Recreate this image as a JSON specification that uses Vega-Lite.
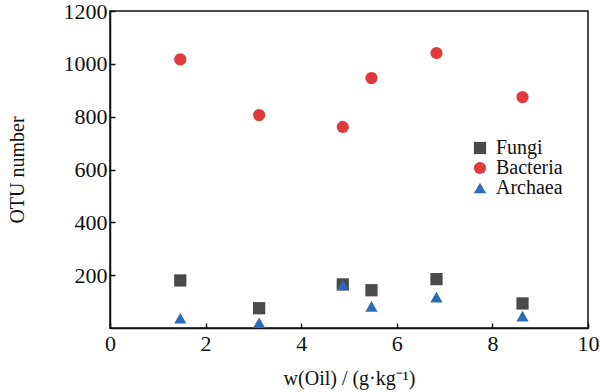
{
  "$schema": "https://vega.github.io/schema/vega-lite/v6.json",
  "width": 478,
  "height": 317,
  "autosize": {"type": "none"},
  "padding": {"left": 110, "top": 11, "right": 12, "bottom": 64},
  "background": "white",
  "config": {
    "font": "Liberation Serif",
    "view": {"stroke": "#111", "strokeWidth": 1.5},
    "axis": {"grid": false, "domainColor": "#111", "domainWidth": 1.5, "tickColor": "#111", "tickWidth": 1.5}
  },
  "data": {"values": [
    {"x": 1.47, "y": 180, "group": "Fungi"},
    {"x": 3.12, "y": 75, "group": "Fungi"},
    {"x": 4.87, "y": 165, "group": "Fungi"},
    {"x": 5.47, "y": 143, "group": "Fungi"},
    {"x": 6.83, "y": 185, "group": "Fungi"},
    {"x": 8.63, "y": 93, "group": "Fungi"},
    {"x": 1.47, "y": 1017, "group": "Bacteria"},
    {"x": 3.12, "y": 806, "group": "Bacteria"},
    {"x": 4.87, "y": 761, "group": "Bacteria"},
    {"x": 5.47, "y": 946, "group": "Bacteria"},
    {"x": 6.83, "y": 1041, "group": "Bacteria"},
    {"x": 8.63, "y": 874, "group": "Bacteria"},
    {"x": 1.47, "y": 37, "group": "Archaea"},
    {"x": 3.12, "y": 20, "group": "Archaea"},
    {"x": 4.87, "y": 163, "group": "Archaea"},
    {"x": 5.47, "y": 82, "group": "Archaea"},
    {"x": 6.83, "y": 117, "group": "Archaea"},
    {"x": 8.63, "y": 45, "group": "Archaea"}
  ]},
  "mark": {"type": "point", "filled": true, "opacity": 1},
  "encoding": {
    "x": {"field": "x", "type": "quantitative", "scale": {"domain": [0, 10], "nice": false},
      "axis": {"values": [0, 2, 4, 6, 8, 10], "tickSize": -5, "labelPadding": 10, "title": "w(Oil) / (g·kg⁻¹)", "titlePadding": 14, "labelFlush": false,
        "labelFont": "Liberation Serif", "labelFontSize": 22, "labelColor": "#111", "titleFont": "Liberation Serif", "titleFontSize": 20, "titleFontWeight": "normal", "titleColor": "#111"}},
    "y": {"field": "y", "type": "quantitative", "scale": {"domain": [0, 1200], "nice": false},
      "axis": {"values": [200, 400, 600, 800, 1000, 1200], "format": "d", "tickSize": -5, "labelPadding": 8, "title": "OTU number", "titlePadding": 36,
        "labelFont": "Liberation Serif", "labelFontSize": 22, "labelColor": "#111", "titleFont": "Liberation Serif", "titleFontSize": 20, "titleFontWeight": "normal", "titleColor": "#111"}},
    "color": {"field": "group", "type": "nominal",
      "scale": {"domain": ["Fungi", "Bacteria", "Archaea"], "range": ["#4a4a4a", "#e03a3e", "#2c6bb5"]},
      "legend": {"title": null, "orient": "none", "legendX": 360, "legendY": 127, "labelFontSize": 20, "labelFont": "Liberation Serif", "labelColor": "#111", "symbolSize": 130, "rowPadding": 0, "labelOffset": 6}},
    "shape": {"field": "group", "type": "nominal",
      "scale": {"domain": ["Fungi", "Bacteria", "Archaea"], "range": ["square", "circle", "triangle-up"]}, "legend": null},
    "size": {"field": "group", "type": "nominal",
      "scale": {"domain": ["Fungi", "Bacteria", "Archaea"], "range": [150, 150, 230]}, "legend": null}
  }
}
